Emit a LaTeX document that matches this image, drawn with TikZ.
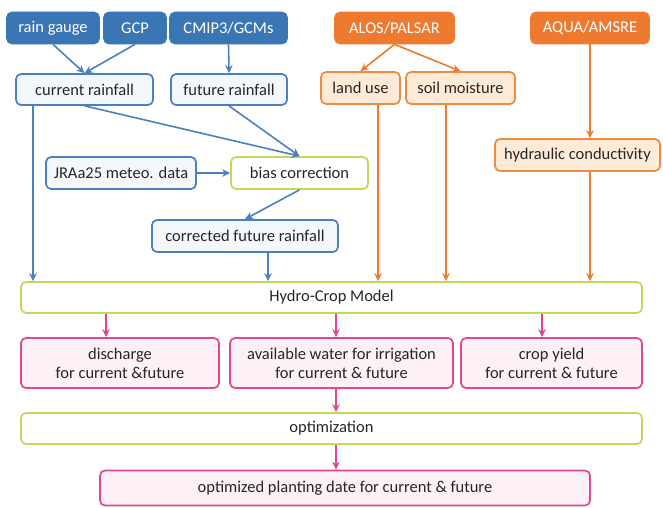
\documentclass[tikz,border=0pt]{standalone}
\usepackage{fontspec}
\setmainfont{Carlito}
\usepackage{tikz}
\usetikzlibrary{positioning, arrows.meta, calc}

\definecolor{bdark}{HTML}{3A75B4}
\definecolor{bline}{HTML}{4A80C0}
\definecolor{blight}{HTML}{F4F8FC}
\definecolor{odark}{HTML}{EE7A30}
\definecolor{oline}{HTML}{F08A3E}
\definecolor{olight}{HTML}{FDEBD8}
\definecolor{gline}{HTML}{C2D85C}
\definecolor{pline}{HTML}{E2468E}
\definecolor{plight}{HTML}{FDF1F6}

\begin{document}
\begin{tikzpicture}[x=1pt, y=-1pt,
    every node/.style={font=\fontsize{16.5}{19}\selectfont, rounded corners=5pt, line width=1.7pt,
        inner sep=0pt, minimum height=31pt, text=black!85},
    srcb/.style={fill=bdark, draw=bdark, text=white},
    srco/.style={fill=odark, draw=odark, text=white},
    boxb/.style={fill=blight, draw=bline},
    boxo/.style={fill=olight, draw=oline},
    boxg/.style={fill=white, draw=gline},
    boxp/.style={fill=plight, draw=pline, align=center},
    tip/.style={-{Stealth[length=8pt, width=7.5pt]}, line width=1.6pt},
    ab/.style={tip, draw=bline},
    ao/.style={tip, draw=odark},
    ap/.style={tip, draw=pline}]
    \useasboundingbox (0,0) rectangle (663,507);

    \node[srcb, minimum width=92pt] (rain) at (53,28) {rain gauge};
    \node[srcb, minimum width=62pt] (gcp) at (135,28) {GCP};
    \node[srcb, minimum width=117pt] (cmip) at (228.5,28) {CMIP3/GCMs};
    \node[srco, minimum width=119pt] (alos) at (394.5,28) {ALOS/PALSAR};
    \node[srco, minimum width=118pt] (aqua) at (590,28) {AQUA/AMSRE};

    \node[boxb, minimum width=137pt] (cur) at (84.5,89.5) {current rainfall};
    \node[boxb, minimum width=116pt] (fut) at (229,89.5) {future rainfall};
    \node[boxo, minimum width=79pt, minimum height=32pt] (land) at (360.5,88) {land use};
    \node[boxo, minimum width=109pt, minimum height=32pt] (soil) at (460.5,88) {soil moisture};
    \node[boxo, minimum width=165pt, minimum height=32pt] (hyd) at (577.5,155) {hydraulic conductivity};

    \node[boxb, minimum width=150pt, minimum height=32pt] (jra) at (121,173) {JRAa25 meteo. data};
    \node[boxg, minimum width=137pt, minimum height=32pt] (bias) at (299.5,173) {bias correction};
    \node[boxb, minimum width=186pt, minimum height=32pt] (corr) at (245,236) {corrected future rainfall};

    \node[boxg, minimum width=621pt] (hcm) at (331.5,297.5) {Hydro-Crop Model};
    \node[boxp, minimum width=198pt, minimum height=50pt] (dis) at (120,363) {discharge\\for current \&future};
    \node[boxp, minimum width=223pt, minimum height=50pt] (avail) at (341.5,363) {available water for irrigation\\for current \& future};
    \node[boxp, minimum width=181pt, minimum height=50pt] (crop) at (551.5,363) {crop yield\\for current \& future};
    \node[boxg, minimum width=621pt] (opt) at (331.5,428.5) {optimization};
    \node[boxp, minimum width=490pt, minimum height=35pt] (plant) at (345,488) {optimized planting date for current \& future};

    \draw[ab] (rain.south) -- (cur.north);
    \draw[ab] (gcp.south) -- (cur.north);
    \draw[ab] (cmip.south) -- (fut.north);
    \draw[ab] (cur.south) -- (bias.north);
    \draw[ab] (fut.south) -- (bias.north);
    \draw[ab] (jra.east) -- (bias.west);
    \draw[ab] (bias.south) -- (corr.north);
    \draw[ao] (alos.south) -- (land.north);
    \draw[ao] (alos.south) -- (soil.north);
    \draw[ao] (aqua.south) -- (hyd.north -| aqua.south);

    \foreach \b/\c/\dx in {cur/ab/-51.5, corr/ab/23, land/ao/17.5, soil/ao/-14.5, hyd/ao/12.5}
        \draw[\c] ([xshift=\dx]\b.south) -- ([xshift=\dx]\b.south |- hcm.north);
    \foreach \b/\dx in {dis/-14, avail/-5.5, crop/-9.5}
        \draw[ap] ([xshift=\dx]\b.north |- hcm.south) -- ([xshift=\dx]\b.north);
    \draw[ap] ([xshift=-5.5]avail.south) -- ([xshift=-5.5]avail.south |- opt.north);
    \draw[ap] ([xshift=4.5]opt.south) -- ([xshift=4.5]opt.south |- plant.north);
\end{tikzpicture}
\end{document}
